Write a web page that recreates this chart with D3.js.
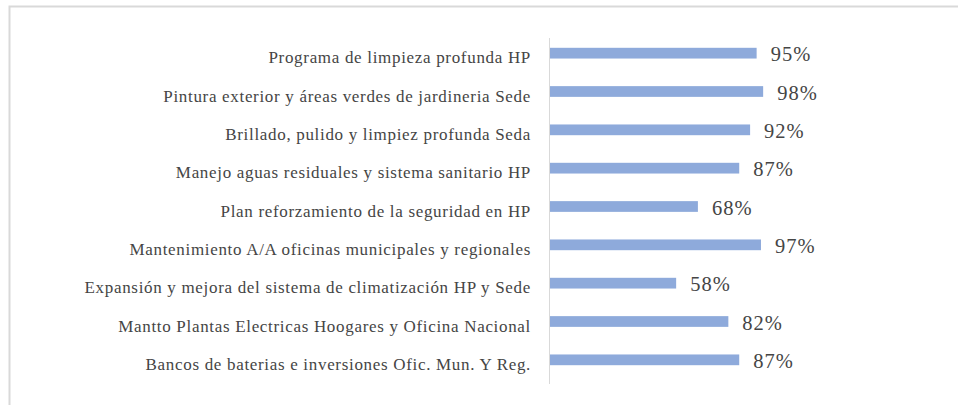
<!DOCTYPE html>
<html lang="es">
<head>
  <meta charset="UTF-8">
  <title>Avance de proyectos</title>
  <script src="https://d3js.org/d3.v7.min.js"></script>
  <style>
    body {
      margin: 0;
      background: #fff;
    }
    .cat {
      font-family: "Liberation Serif", "Times New Roman", serif;
      font-size: 17px;
      letter-spacing: 0.68px;
      fill: #454545;
    }
    .val {
      font-family: "Liberation Serif", "Times New Roman", serif;
      font-size: 20.5px;
      letter-spacing: 1px;
      fill: #454545;
    }
  </style>
</head>
<body>
  <svg width="958" height="405"></svg>

  <script>
    const categories = [
      "Programa de limpieza profunda HP",
      "Pintura exterior y áreas verdes de jardineria Sede",
      "Brillado, pulido y limpiez profunda Seda",
      "Manejo aguas residuales y sistema sanitario HP",
      "Plan reforzamiento de la seguridad en HP",
      "Mantenimiento A/A oficinas municipales y regionales",
      "Expansión y mejora del sistema de climatización HP y Sede",
      "Mantto Plantas Electricas Hoogares y Oficina Nacional",
      "Bancos de baterias e inversiones Ofic. Mun. Y Reg."
    ];
    const values = [0.95, 0.98, 0.92, 0.87, 0.68, 0.97, 0.58, 0.82, 0.87];

    const svg = d3.select("svg");

    // chart frame
    svg.append("rect")
      .attr("x", 9.5).attr("y", 6.5)
      .attr("width", 960).attr("height", 410)
      .attr("fill", "none")
      .attr("stroke", "#d9d9d9")
      .attr("stroke-width", 2);

    const x = d3.scaleLinear().domain([0, 1]).range([550, 767.5]);
    const y = d3.scaleBand().domain(categories).range([34, 379]).paddingInner(0.72).paddingOuter(0.36);

    // vertical axis line
    svg.append("line")
      .attr("x1", 549.5).attr("x2", 549.5)
      .attr("y1", 38).attr("y2", 384)
      .attr("stroke", "#d9d9d9");

    svg.selectAll(".bar")
      .data(values)
      .enter()
      .append("rect")
      .attr("class", "bar")
      .attr("x", x(0))
      .attr("y", (d, i) => y(categories[i]))
      .attr("width", d => x(d) - x(0))
      .attr("height", y.bandwidth())
      .attr("fill", "#8eaadb");

    svg.selectAll(".cat")
      .data(categories)
      .enter()
      .append("text")
      .attr("class", "cat")
      .attr("x", 531)
      .attr("y", d => y(d) + y.bandwidth() / 2 + 10)
      .attr("text-anchor", "end")
      .text(d => d);

    svg.selectAll(".val")
      .data(values)
      .enter()
      .append("text")
      .attr("class", "val")
      .attr("x", d => x(d) + 14)
      .attr("y", (d, i) => y(categories[i]) + y.bandwidth() / 2 + 8)
      .text(d => Math.round(d * 100) + "%");
  </script>
</body>
</html>
